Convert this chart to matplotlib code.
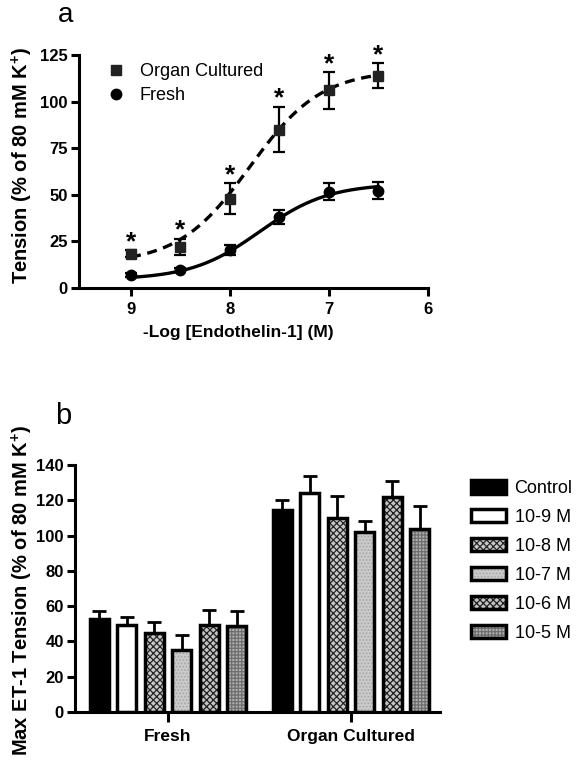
import numpy as np
import matplotlib
matplotlib.use("Agg")
import matplotlib.pyplot as plt
from matplotlib.patches import Patch

plt.rcParams['font.family'] = ['Liberation Sans', 'DejaVu Sans']
plt.rcParams['mathtext.fontset'] = 'custom'
plt.rcParams['mathtext.rm'] = 'Liberation Sans:bold'
plt.rcParams['mathtext.bf'] = 'Liberation Sans:bold'
plt.rcParams['hatch.linewidth'] = 0.9

# ---------------- Panel a data ----------------
log_conc = [9, 8.5, 8, 7.5, 7, 6.5]
organ_mean = [18.5, 22, 48, 85, 106, 114]
organ_sem = [2, 4.5, 8.5, 12.3, 10, 6.5]
fresh_mean = [7, 9.7, 20.4, 38, 51.7, 52.2]
fresh_sem = [1, 1, 2.7, 3.6, 4.5, 4.7]
# sigmoid fit parameters (bottom, top, logEC50, hill)
organ_fit = (13, 117, 7.8, 1.2)
fresh_fit = (4.5, 56, 7.7, 1.25)
xticks_a = [9, 8, 7, 6]
yticks_a = [0, 25, 50, 75, 100, 125]

# ---------------- Panel b data ----------------
groups = ["Fresh", "Organ Cultured"]
series = ["Control", "10-9 M", "10-8 M", "10-7 M", "10-6 M", "10-5 M"]
fresh_max = [52.5, 49.3, 44.5, 35.3, 49.3, 48.7]
fresh_max_err = [4.5, 4.4, 6.7, 8.6, 8.6, 8.8]
organ_max = [114.4, 124, 109.8, 101.8, 122, 103.7]
organ_max_err = [5.7, 9.7, 12.6, 6.3, 9.2, 13]
yticks_b = [0, 20, 40, 60, 80, 100, 120, 140]

W, H = 582, 765
fig = plt.figure(figsize=(W / 100, H / 100), dpi=100)

def fpx(x0, y0, x1, y1):
    return [x0 / W, 1 - y1 / H, (x1 - x0) / W, (y1 - y0) / H]

# ================= Panel a =================
ax = fig.add_axes(fpx(79, 55, 428, 288))
def hill(x, p):
    b, t, ec, h = p
    return b + (t - b) / (1 + 10 ** ((x - ec) * h))

xs = np.linspace(log_conc[0], log_conc[-1], 200)
ax.plot(xs, hill(xs, organ_fit), color='black', lw=2.4, ls=(0, (3, 2)), zorder=2)
ax.plot(xs, hill(xs, fresh_fit), color='black', lw=2.4, zorder=2)
ax.errorbar(log_conc, organ_mean, yerr=organ_sem, fmt='s', color='#222222', ms=7,
            ecolor='black', elinewidth=1.6, capsize=4.5, capthick=1.6, zorder=3,
            label='Organ Cultured')
ax.errorbar(log_conc, fresh_mean, yerr=fresh_sem, fmt='o', color='black', ms=7.5,
            ecolor='black', elinewidth=1.6, capsize=4.5, capthick=1.6, zorder=3,
            label='Fresh')
for x, m, e in zip(log_conc, organ_mean, organ_sem):
    ax.annotate('*', (x, m + e), xytext=(0, -3), textcoords='offset points',
                ha='center', va='bottom', fontsize=19, fontweight='bold',
                annotation_clip=False)

ax.set_xlim(9.525, 6.0)
ax.set_ylim(0, 125)
ax.set_xticks(xticks_a)
ax.set_yticks(yticks_a)
for s in ['top', 'right']:
    ax.spines[s].set_visible(False)
for s in ['left', 'bottom']:
    ax.spines[s].set_linewidth(2.2)
ax.tick_params(width=2.2, length=6, labelsize=12, pad=2)
for lab in ax.get_xticklabels() + ax.get_yticklabels():
    lab.set_fontweight('bold')
ax.tick_params(axis='x', pad=4)

h, l = ax.get_legend_handles_labels()
leg = ax.legend([hh[0] for hh in h], l, loc='upper left', frameon=False, fontsize=13,
                bbox_to_anchor=(0.06, 0.995), handlelength=1.0, handletextpad=0.8,
                labelspacing=0.38, borderaxespad=0)

fig.text(22 / W, 1 - 166 / H, 'Tension (% of 80 mM K$^{+}$)', rotation=90,
         ha='center', va='center', fontsize=14.5, fontweight='bold')
fig.text(238 / W, 1 - 333 / H, '-Log [Endothelin-1] (M)', ha='center', va='center',
         fontsize=12.5, fontweight='bold')
fig.text(66 / W, 1 - 15 / H, 'a', ha='center', va='center', fontsize=20)

# ================= Panel b =================
bx = fig.add_axes(fpx(75, 465, 440, 712))
styles = [
    dict(fc='black', hatch=None, hc='black'),
    dict(fc='white', hatch=None, hc='white'),
    dict(fc='#c8c8c8', hatch='xxxxx', hc='#262626'),
    dict(fc='#cbcbcb', hatch='.....', hc='#a8a8a8'),
    dict(fc='#c4c4c4', hatch='xxxxx', hc='#202020'),
    dict(fc='#b0b0b0', hatch='+++++', hc='#6e6e6e'),
]
pitch = 0.150
width = 0.103
gpos = np.arange(len(groups))
handles = []
for i, (name, st) in enumerate(zip(series, styles)):
    vals = [fresh_max[i], organ_max[i]]
    errs = [fresh_max_err[i], organ_max_err[i]]
    xpos = gpos + (i - 2.5) * pitch
    bx.errorbar(xpos, vals, yerr=[[0, 0], errs], fmt='none', ecolor='black',
                elinewidth=2.0, capsize=5, capthick=2.0, zorder=1)
    bx.bar(xpos, vals, width, color=st['fc'], edgecolor=st['hc'], hatch=st['hatch'],
           lw=0, zorder=2)
    bx.bar(xpos, vals, width, facecolor='none', edgecolor='black', lw=2.5, zorder=3)
    handles.append((Patch(facecolor=st['fc'], edgecolor=st['hc'], hatch=st['hatch'], lw=0),
                    Patch(facecolor='none', edgecolor='black', lw=2.5)))

bx.set_xlim(-0.508, 1.486)
bx.set_ylim(0, 140)
bx.set_yticks(yticks_b)
bx.set_xticks(gpos)
bx.set_xticklabels(groups)
for s in ['top', 'right']:
    bx.spines[s].set_visible(False)
for s in ['left', 'bottom']:
    bx.spines[s].set_linewidth(2.2)
bx.tick_params(width=2.2, length=6, labelsize=12, pad=2)
bx.tick_params(axis='x', length=7, labelsize=12.5, pad=5)
for lab in bx.get_xticklabels() + bx.get_yticklabels():
    lab.set_fontweight('bold')

fig.legend(handles, series, loc='upper left', frameon=False, fontsize=13,
           bbox_to_anchor=(464 / W, 1 - 473 / H), handlelength=1.95, handleheight=0.75,
           handletextpad=0.45, labelspacing=0.66, borderaxespad=0)

fig.text(22 / W, 1 - 591 / H, 'Max ET-1 Tension (% of 80 mM K$^{+}$)', rotation=90,
         ha='center', va='center', fontsize=14.5, fontweight='bold')
fig.text(63 / W, 1 - 416 / H, 'b', ha='center', va='center', fontsize=21)

fig.savefig('out.png', dpi=100)
